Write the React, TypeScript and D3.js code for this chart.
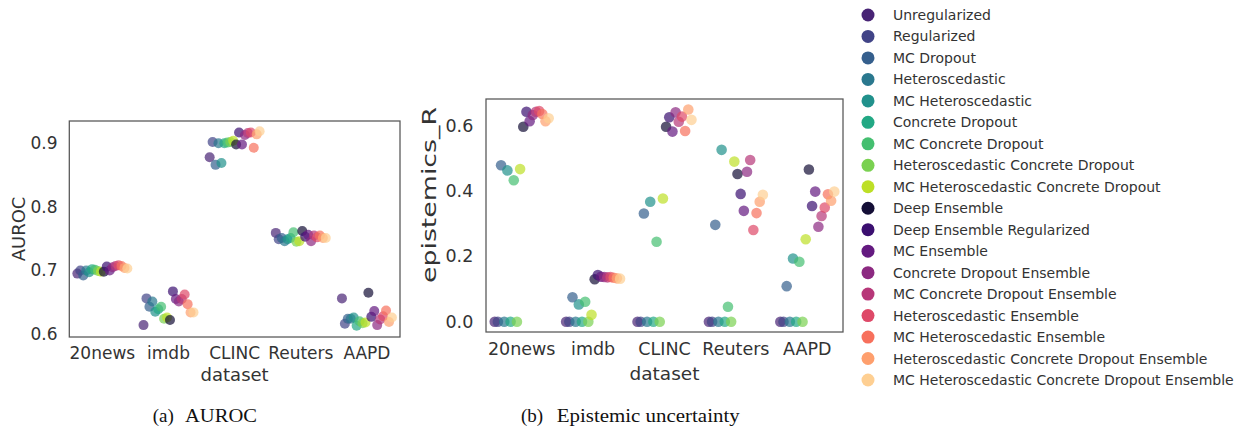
import * as d3 from "d3";

// датасеты и методы
const datasets = ["20news", "imdb", "CLINC", "Reuters", "AAPD"];
const methods = [
  "Unregularized",
  "Regularized",
  "MC Dropout",
  "Heteroscedastic",
  "MC Heteroscedastic",
  "Concrete Dropout",
  "MC Concrete Dropout",
  "Heteroscedastic Concrete Dropout",
  "MC Heteroscedastic Concrete Dropout",
  "Deep Ensemble",
  "Deep Ensemble Regularized",
  "MC Ensemble",
  "Concrete Dropout Ensemble",
  "MC Concrete Dropout Ensemble",
  "Heteroscedastic Ensemble",
  "MC Heteroscedastic Ensemble",
  "Heteroscedastic Concrete Dropout Ensemble",
  "MC Heteroscedastic Concrete Dropout Ensemble",
];

// AUROC, по методам (в порядке methods)
const auroc20news = [0.695, 0.7, 0.692, 0.7, 0.697, 0.702, 0.701, 0.699, 0.698, 0.698, 0.706, 0.7, 0.705, 0.707, 0.708, 0.707, 0.704, 0.703];
const aurocImdb = [0.614, 0.656, 0.643, 0.651, 0.635, 0.639, 0.643, 0.624, 0.626, 0.622, 0.667, 0.655, 0.651, 0.655, 0.662, 0.647, 0.634, 0.634];
const aurocClinc = [0.878, 0.902, 0.866, 0.9, 0.869, 0.9, 0.901, 0.902, 0.904, 0.898, 0.917, 0.898, 0.913, 0.916, 0.917, 0.893, 0.914, 0.919];
const aurocReuters = [0.759, 0.749, 0.751, 0.746, 0.749, 0.751, 0.76, 0.745, 0.746, 0.762, 0.753, 0.756, 0.746, 0.755, 0.752, 0.755, 0.751, 0.751];
const aurocAapd = [0.656, 0.616, 0.624, 0.624, 0.626, 0.613, 0.62, 0.617, 0.618, 0.665, 0.627, 0.636, 0.614, 0.623, 0.628, 0.637, 0.619, 0.626];

// epistemics_R
const epi20news = [0, 0, 0.48, 0, 0.464, 0, 0.434, 0, 0.468, 0.598, 0.644, 0.615, 0.634, 0.644, 0.646, 0.637, 0.615, 0.624];
const epiImdb = [0, 0, 0.075, 0, 0.053, 0, 0.061, 0, 0.021, 0.13, 0.143, 0.138, 0.137, 0.136, 0.137, 0.135, 0.133, 0.132];
const epiClinc = [0, 0, 0.332, 0, 0.368, 0, 0.245, 0, 0.378, 0.598, 0.627, 0.583, 0.642, 0.613, 0.629, 0.585, 0.651, 0.619];
const epiReuters = [0, 0, 0.297, 0, 0.527, 0, 0.046, 0, 0.491, 0.453, 0.392, 0.34, 0.46, 0.496, 0.281, 0.333, 0.368, 0.389];
const epiAapd = [0, 0, 0.109, 0, 0.194, 0, 0.184, 0, 0.253, 0.467, 0.355, 0.399, 0.291, 0.324, 0.35, 0.391, 0.371, 0.399];

const aurocTicks = [0.6, 0.7, 0.8, 0.9];
const epiTicks = [0.0, 0.2, 0.4, 0.6];

// viridis для первых 9, magma для ансамблей
const colors = [
  ...d3.range(9).map((i) => d3.interpolateViridis((i + 1) / 10)),
  ...d3.range(9).map((i) => d3.interpolateMagma((i + 1) / 10)),
];

const font = "'DejaVu Sans', sans-serif";
const textColor = "#333";

type PanelProps = {
  box: [number, number, number, number]; // x0, x1, y0, y1
  domain: [number, number];
  ticks: number[];
  values: number[][];
  r: number;
  fontSize: number;
  xTickY: number;
  xLabelY: number;
  yTickX: number;
  yLabel: string;
  yLabelPos: [number, number];
  yLabelSize: number;
  yLabelLength?: number;
};

const Panel = (p: PanelProps) => {
  const [x0, x1, y0, y1] = p.box;
  const x = d3.scalePoint<string>().domain(datasets).range([x0, x1]).padding(0.5);
  const y = d3.scaleLinear().domain(p.domain).range([y1, y0]);
  const step = x.step();
  const n = methods.length;
  const dodge = (i: number) => -0.4 * step + ((i + 0.5) * 0.8 * step) / n;
  const fmt = d3.format(".1f");

  return (
    <g>
      {datasets.map((ds, di) =>
        methods.map((m, mi) => (
          <circle
            key={ds + m}
            cx={(x(ds) as number) + dodge(mi)}
            cy={y(p.values[di][mi])}
            r={p.r}
            fill={colors[mi]}
            fillOpacity={0.7}
          />
        ))
      )}
      <rect x={x0} y={y0} width={x1 - x0} height={y1 - y0} fill="none" stroke="#555" strokeWidth={1.25} />
      {p.ticks.map((t) => (
        <text
          key={t}
          x={p.yTickX}
          y={y(t)}
          textAnchor="end"
          dominantBaseline="central"
          fontSize={p.fontSize}
          fontFamily={font}
          fill={textColor}
        >
          {fmt(t)}
        </text>
      ))}
      {datasets.map((ds) => (
        <text key={ds} x={x(ds)} y={p.xTickY} textAnchor="middle" fontSize={p.fontSize} fontFamily={font} fill={textColor}>
          {ds}
        </text>
      ))}
      <text x={(x0 + x1) / 2} y={p.xLabelY} textAnchor="middle" fontSize={p.fontSize + 1} fontFamily={font} fill={textColor}>
        dataset
      </text>
      <text
        transform={`translate(${p.yLabelPos[0]},${p.yLabelPos[1]}) rotate(-90)`}
        textAnchor="middle"
        fontSize={p.yLabelSize}
        fontFamily={font}
        fill={textColor}
        textLength={p.yLabelLength}
        lengthAdjust={p.yLabelLength ? "spacingAndGlyphs" : undefined}
      >
        {p.yLabel}
      </text>
    </g>
  );
};

const App = () => {
  const legendY = (i: number) => 15 + i * 21.47;
  return (
    <div style={{ position: "absolute", left: 0, top: 0 }}>
      <svg width={1251} height={430} style={{ display: "block", background: "#fff" }}>
        <Panel
          box={[69.3, 400, 121, 337]}
          domain={[0.5953, 0.935]}
          ticks={aurocTicks}
          values={[auroc20news, aurocImdb, aurocClinc, aurocReuters, aurocAapd]}
          r={5}
          fontSize={17}
          xTickY={359}
          xLabelY={381}
          yTickX={57.5}
          yLabel="AUROC"
          yLabelPos={[25, 229]}
          yLabelSize={18}
        />
        <Panel
          box={[486, 843, 99, 332]}
          domain={[-0.0316, 0.683]}
          ticks={epiTicks}
          values={[epi20news, epiImdb, epiClinc, epiReuters, epiAapd]}
          r={5.3}
          fontSize={17.5}
          xTickY={355}
          xLabelY={380}
          yTickX={473.3}
          yLabel="epistemics_R"
          yLabelPos={[435.5, 195]}
          yLabelSize={19}
          yLabelLength={176}
        />
        {/* легенда */}
        {methods.map((m, i) => (
          <g key={m}>
            <circle cx={868} cy={legendY(i)} r={6.5} fill={colors[i]} />
            <text x={893} y={legendY(i)} dominantBaseline="central" fontSize={14} fontFamily={font} fill={textColor}>
              {m}
            </text>
          </g>
        ))}
        {/* подписи */}
        <g fontFamily="'Liberation Serif', 'Times New Roman', serif" fontSize={19} fill="#111">
          <text x={152.7} y={421.5}>(a)</text>
          <text x={185} y={421.5} textLength={72} lengthAdjust="spacingAndGlyphs">AUROC</text>
          <text x={521} y={421.5}>(b)</text>
          <text x={556.7} y={421.5} textLength={183} lengthAdjust="spacingAndGlyphs">Epistemic uncertainty</text>
        </g>
      </svg>
    </div>
  );
};

export default App;
